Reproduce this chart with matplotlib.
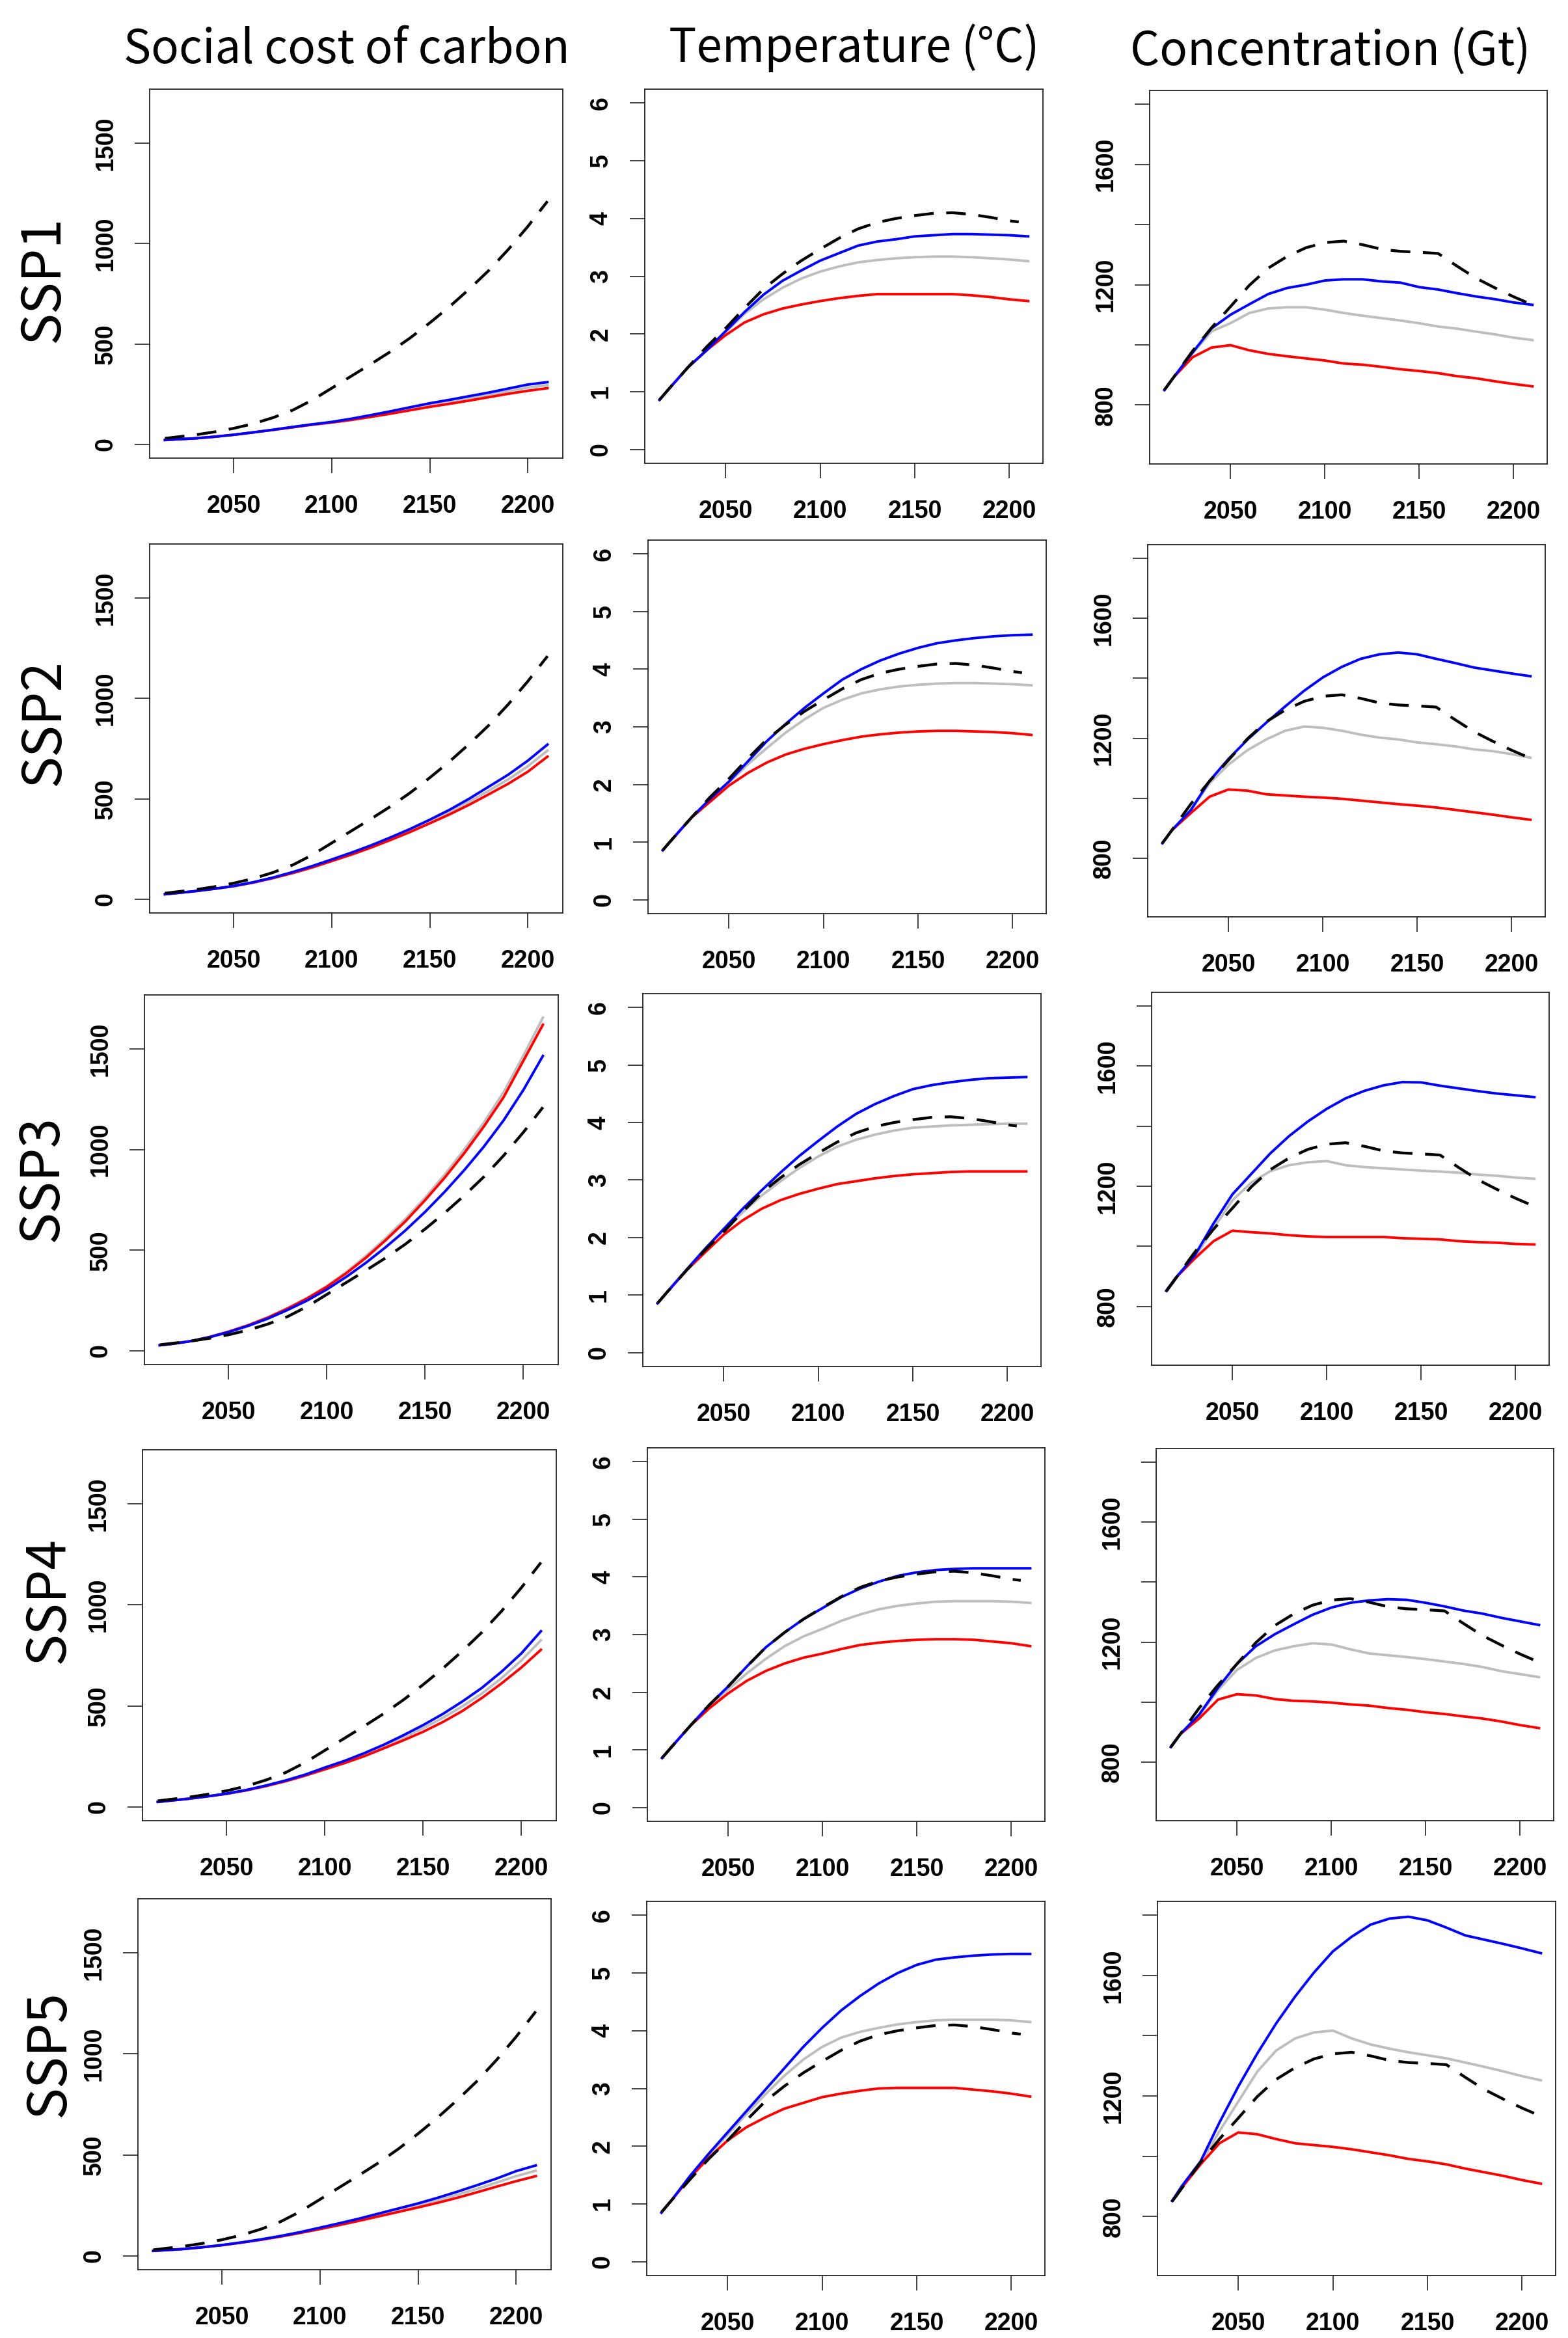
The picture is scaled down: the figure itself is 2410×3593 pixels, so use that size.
import matplotlib
matplotlib.use('Agg')
import matplotlib.pyplot as plt

# ---- data (one value per year below) ----
years = [2015, 2020, 2030, 2040, 2050, 2060, 2070, 2080, 2090, 2100, 2110,
         2120, 2130, 2140, 2150, 2160, 2170, 2180, 2190, 2200, 2210]
years_ref_temp = years[:-1] + [2205]

ssp_labels = ['SSP1', 'SSP2', 'SSP3', 'SSP4', 'SSP5']
col_titles = ['Social cost of carbon', 'Temperature (°C)', 'Concentration (Gt)']

# dashed black reference run, identical in every row
scc_ref = [30, 36, 47, 62, 80, 103, 133, 170, 220, 280, 340, 400, 462, 530, 605, 685, 772, 865, 970, 1085, 1210]
temp_ref = [0.86, 1.05, 1.42, 1.78, 2.1, 2.45, 2.78, 3.04, 3.27, 3.47, 3.66, 3.82, 3.93, 4.0, 4.05, 4.09, 4.1, 4.07, 4.02, 3.96, 3.94]
conc_ref = [850, 893, 980, 1057, 1127, 1198, 1255, 1294, 1323, 1340, 1345, 1333, 1318, 1311, 1308, 1304, 1262, 1222, 1190, 1160, 1133]

# social cost of carbon
ssp1_scc_blue = [22, 25, 30, 38, 48, 60, 73, 87, 100, 112, 128, 146, 165, 185, 205, 222, 240, 258, 278, 298, 310]
ssp1_scc_gray = [22, 25, 30, 38, 48, 60, 72, 86, 99, 110, 125, 141, 159, 177, 196, 212, 229, 246, 265, 283, 295]
ssp1_scc_red = [22, 25, 30, 38, 48, 60, 72, 85, 98, 109, 122, 137, 153, 170, 187, 202, 218, 235, 252, 267, 280]
ssp2_scc_blue = [25, 30, 40, 52, 66, 85, 108, 135, 165, 198, 232, 268, 308, 350, 396, 445, 500, 560, 620, 690, 770]
ssp2_scc_gray = [25, 30, 40, 52, 65, 84, 106, 132, 162, 194, 227, 262, 301, 342, 387, 433, 485, 540, 597, 662, 740]
ssp2_scc_red = [25, 30, 40, 52, 65, 83, 105, 130, 158, 190, 222, 257, 295, 335, 378, 422, 470, 522, 575, 635, 710]
ssp3_scc_blue = [28, 33, 47, 67, 93, 124, 160, 203, 250, 305, 368, 438, 515, 598, 690, 790, 898, 1015, 1145, 1295, 1465]
ssp3_scc_gray = [28, 33, 47, 68, 96, 128, 167, 212, 263, 322, 392, 472, 560, 655, 760, 875, 1000, 1135, 1285, 1465, 1655]
ssp3_scc_red = [28, 33, 47, 68, 95, 127, 165, 210, 260, 318, 386, 463, 550, 643, 748, 860, 982, 1115, 1260, 1440, 1620]
ssp4_scc_blue = [25, 30, 40, 52, 66, 84, 106, 131, 160, 195, 228, 266, 308, 355, 405, 460, 522, 590, 670, 760, 870]
ssp4_scc_gray = [25, 30, 40, 52, 65, 83, 104, 129, 157, 190, 222, 258, 298, 342, 390, 441, 498, 562, 638, 725, 825]
ssp4_scc_red = [25, 30, 40, 52, 65, 82, 103, 127, 155, 186, 217, 251, 290, 330, 372, 420, 475, 540, 612, 690, 778]
ssp5_scc_blue = [25, 28, 34, 43, 54, 67, 82, 99, 118, 140, 162, 185, 210, 235, 260, 288, 318, 350, 383, 420, 448]
ssp5_scc_gray = [25, 28, 34, 43, 53, 66, 81, 97, 116, 136, 157, 179, 203, 226, 250, 275, 303, 332, 363, 395, 422]
ssp5_scc_red = [25, 28, 34, 43, 53, 66, 80, 96, 114, 133, 153, 174, 196, 218, 240, 263, 288, 315, 343, 370, 395]

# temperature
ssp1_temp_blue = [0.86, 1.05, 1.42, 1.72, 2.05, 2.38, 2.68, 2.92, 3.1, 3.27, 3.4, 3.53, 3.6, 3.64, 3.69, 3.71, 3.73, 3.73, 3.72, 3.71, 3.69]
ssp1_temp_gray = [0.86, 1.05, 1.42, 1.72, 2.03, 2.35, 2.6, 2.8, 2.96, 3.08, 3.17, 3.24, 3.28, 3.31, 3.33, 3.34, 3.34, 3.33, 3.31, 3.29, 3.26]
ssp1_temp_red = [0.86, 1.05, 1.42, 1.72, 1.98, 2.2, 2.34, 2.44, 2.51, 2.57, 2.62, 2.66, 2.69, 2.69, 2.69, 2.69, 2.69, 2.67, 2.64, 2.6, 2.57]
ssp2_temp_blue = [0.86, 1.05, 1.42, 1.75, 2.05, 2.4, 2.75, 3.05, 3.33, 3.58, 3.82, 4.0, 4.15, 4.27, 4.37, 4.45, 4.5, 4.54, 4.57, 4.59, 4.6]
ssp2_temp_gray = [0.86, 1.05, 1.42, 1.74, 2.03, 2.35, 2.63, 2.9, 3.13, 3.33, 3.47, 3.58, 3.65, 3.7, 3.73, 3.75, 3.76, 3.76, 3.75, 3.74, 3.72]
ssp2_temp_red = [0.86, 1.05, 1.42, 1.7, 1.98, 2.2, 2.38, 2.52, 2.62, 2.7, 2.77, 2.83, 2.87, 2.9, 2.92, 2.93, 2.93, 2.92, 2.91, 2.89, 2.86]
ssp3_temp_blue = [0.86, 1.05, 1.43, 1.8, 2.15, 2.5, 2.82, 3.13, 3.42, 3.68, 3.93, 4.15, 4.32, 4.46, 4.58, 4.65, 4.7, 4.74, 4.77, 4.78, 4.79]
ssp3_temp_gray = [0.86, 1.05, 1.43, 1.8, 2.12, 2.44, 2.73, 2.98, 3.21, 3.41, 3.58, 3.7, 3.79, 3.86, 3.91, 3.93, 3.95, 3.96, 3.97, 3.98, 3.98]
ssp3_temp_red = [0.86, 1.05, 1.42, 1.74, 2.05, 2.3, 2.5, 2.65, 2.76, 2.85, 2.93, 2.98, 3.03, 3.07, 3.1, 3.12, 3.14, 3.15, 3.15, 3.15, 3.15]
ssp4_temp_blue = [0.86, 1.05, 1.42, 1.78, 2.1, 2.45, 2.78, 3.04, 3.27, 3.46, 3.65, 3.8, 3.92, 4.02, 4.08, 4.12, 4.14, 4.15, 4.15, 4.15, 4.15]
ssp4_temp_gray = [0.86, 1.05, 1.42, 1.75, 2.05, 2.33, 2.58, 2.8, 2.97, 3.1, 3.24, 3.35, 3.44, 3.5, 3.54, 3.57, 3.58, 3.58, 3.58, 3.57, 3.55]
ssp4_temp_red = [0.86, 1.05, 1.42, 1.72, 1.98, 2.2, 2.37, 2.5, 2.6, 2.67, 2.75, 2.82, 2.86, 2.89, 2.91, 2.92, 2.92, 2.91, 2.88, 2.85, 2.8]
ssp5_temp_blue = [0.85, 1.05, 1.48, 1.87, 2.24, 2.61, 2.98, 3.35, 3.72, 4.05, 4.35, 4.6, 4.82, 5.0, 5.14, 5.23, 5.27, 5.3, 5.32, 5.33, 5.33]
ssp5_temp_gray = [0.85, 1.05, 1.47, 1.85, 2.2, 2.56, 2.9, 3.22, 3.5, 3.72, 3.88, 3.98, 4.05, 4.11, 4.15, 4.18, 4.19, 4.19, 4.19, 4.18, 4.15]
ssp5_temp_red = [0.85, 1.05, 1.45, 1.8, 2.1, 2.33, 2.5, 2.65, 2.75, 2.85, 2.91, 2.96, 3.0, 3.01, 3.01, 3.01, 3.01, 2.98, 2.95, 2.91, 2.86]

# concentration
ssp1_conc_blue = [850, 893, 975, 1055, 1100, 1135, 1169, 1189, 1200, 1214, 1218, 1218, 1211, 1207, 1192, 1184, 1172, 1161, 1152, 1141, 1133]
ssp1_conc_gray = [850, 893, 972, 1045, 1072, 1106, 1121, 1125, 1125, 1117, 1106, 1097, 1089, 1081, 1072, 1061, 1054, 1044, 1035, 1024, 1016]
ssp1_conc_red = [850, 893, 959, 991, 999, 982, 970, 962, 955, 948, 938, 934, 927, 919, 913, 906, 896, 889, 879, 870, 862]
ssp2_conc_blue = [850, 893, 960, 1058, 1131, 1195, 1252, 1306, 1358, 1403, 1438, 1465, 1480, 1486, 1480, 1465, 1451, 1436, 1426, 1416, 1407]
ssp2_conc_gray = [850, 893, 958, 1050, 1112, 1160, 1196, 1225, 1239, 1235, 1225, 1212, 1202, 1196, 1186, 1180, 1173, 1163, 1157, 1147, 1135]
ssp2_conc_red = [850, 893, 950, 1005, 1029, 1025, 1013, 1009, 1005, 1002, 998, 992, 986, 980, 975, 969, 961, 953, 945, 936, 928]
ssp3_conc_blue = [852, 895, 969, 1076, 1173, 1241, 1309, 1367, 1416, 1458, 1493, 1518, 1536, 1547, 1546, 1535, 1526, 1517, 1509, 1503, 1497]
ssp3_conc_gray = [852, 895, 962, 1060, 1153, 1212, 1250, 1270, 1280, 1284, 1270, 1264, 1260, 1256, 1252, 1249, 1245, 1239, 1235, 1229, 1225]
ssp3_conc_red = [852, 895, 959, 1017, 1052, 1047, 1043, 1037, 1033, 1031, 1031, 1031, 1031, 1027, 1025, 1023, 1017, 1014, 1012, 1008, 1006]
ssp4_conc_blue = [850, 893, 958, 1048, 1127, 1186, 1226, 1259, 1291, 1315, 1331, 1339, 1343, 1341, 1331, 1319, 1305, 1295, 1281, 1269, 1257]
ssp4_conc_gray = [850, 893, 955, 1040, 1107, 1147, 1172, 1186, 1196, 1192, 1176, 1162, 1156, 1150, 1143, 1135, 1127, 1117, 1103, 1093, 1083]
ssp4_conc_red = [850, 893, 945, 1008, 1026, 1022, 1010, 1004, 1002, 998, 992, 988, 980, 974, 966, 960, 952, 945, 935, 923, 913]
ssp5_conc_blue = [852, 900, 983, 1112, 1232, 1341, 1441, 1530, 1610, 1680, 1729, 1769, 1789, 1795, 1783, 1759, 1733, 1719, 1705, 1690, 1674]
ssp5_conc_gray = [852, 898, 975, 1083, 1182, 1281, 1351, 1391, 1411, 1417, 1391, 1371, 1357, 1345, 1335, 1325, 1311, 1297, 1282, 1266, 1252]
ssp5_conc_red = [852, 895, 973, 1043, 1079, 1073, 1057, 1043, 1037, 1031, 1023, 1013, 1003, 991, 983, 973, 959, 947, 935, 921, 909]

scc_runs = [(ssp1_scc_gray, ssp1_scc_red, ssp1_scc_blue),
            (ssp2_scc_gray, ssp2_scc_red, ssp2_scc_blue),
            (ssp3_scc_gray, ssp3_scc_red, ssp3_scc_blue),
            (ssp4_scc_gray, ssp4_scc_red, ssp4_scc_blue),
            (ssp5_scc_gray, ssp5_scc_red, ssp5_scc_blue)]
temp_runs = [(ssp1_temp_gray, ssp1_temp_red, ssp1_temp_blue),
             (ssp2_temp_gray, ssp2_temp_red, ssp2_temp_blue),
             (ssp3_temp_gray, ssp3_temp_red, ssp3_temp_blue),
             (ssp4_temp_gray, ssp4_temp_red, ssp4_temp_blue),
             (ssp5_temp_gray, ssp5_temp_red, ssp5_temp_blue)]
conc_runs = [(ssp1_conc_gray, ssp1_conc_red, ssp1_conc_blue),
             (ssp2_conc_gray, ssp2_conc_red, ssp2_conc_blue),
             (ssp3_conc_gray, ssp3_conc_red, ssp3_conc_blue),
             (ssp4_conc_gray, ssp4_conc_red, ssp4_conc_blue),
             (ssp5_conc_gray, ssp5_conc_red, ssp5_conc_blue)]

# ---- layout: panel boxes in pixels (left, right, top, bottom) ----
W, H = 2410, 3593
boxes = [
    [(230, 865, 137, 704), (991, 1603, 137, 712), (1767, 2378, 139, 713)],
    [(230, 865, 836, 1403), (996, 1608, 830, 1404), (1764, 2375, 837, 1409)],
    [(222, 858, 1529, 2097), (988, 1600, 1527, 2100), (1770, 2381, 1525, 2098)],
    [(219, 855, 2228, 2798), (995, 1606, 2225, 2799), (1777, 2388, 2226, 2798)],
    [(212, 847, 2918, 3488), (994, 1606, 2922, 3497), (1779, 2391, 2922, 3497)],
]
row_label_pos = [(67, 429), (68, 1111), (65, 1811), (75, 2460), (76, 3156)]
title_pos = [(533, 97), (1313, 95), (2045, 100)]

# R-style limits: data range padded by 4 % on each side
def rlim(lo, hi):
    d = (hi - lo) * 0.04
    return lo - d, hi + d

xlim = rlim(2015, 2210)
ylims = [rlim(0, 1700), rlim(0, 6), rlim(650, 1800)]
yticks = [[0, 500, 1000, 1500], [0, 1, 2, 3, 4, 5, 6], [800, 1000, 1200, 1400, 1600, 1800]]
yticklabels = [['0', '500', '1000', '1500'], ['0', '1', '2', '3', '4', '5', '6'],
               ['800', '', '1200', '', '1600', '']]

LW = 2.8
tick_font = dict(family='Liberation Sans', weight='bold', size=27)
big_font = ['Noto Sans CJK JP', 'DejaVu Sans']

fig = plt.figure(figsize=(W / 100, H / 100), dpi=100)

for r in range(5):
    runs = [scc_runs[r], temp_runs[r], conc_runs[r]]
    refs = [(years, scc_ref), (years_ref_temp, temp_ref), (years, conc_ref)]
    for c in range(3):
        x0, x1, t, b = boxes[r][c]
        ax = fig.add_axes([x0 / W, 1 - b / H, (x1 - x0) / W, (b - t) / H])
        gray, red, blue = runs[c]
        ax.plot(years, gray, color='#BEBEBE', lw=LW)
        ax.plot(years, red, color='#FF0000', lw=LW)
        ax.plot(years, blue, color='#0000FF', lw=LW)
        ax.plot(refs[c][0], refs[c][1], color='black', lw=LW + 0.3, ls=(0, (7, 4.5)))

        ax.set_xlim(xlim)
        ax.set_ylim(ylims[c])
        ax.set_xticks([2050, 2100, 2150, 2200])
        ax.set_xticklabels(['2050', '2100', '2150', '2200'], fontdict=tick_font)
        ax.set_yticks(yticks[c])
        ax.set_yticklabels(yticklabels[c], fontdict=tick_font, rotation=90, va='center')
        ax.tick_params(axis='both', direction='out', length=16.5, width=1.3, color='#333333')
        ax.tick_params(axis='x', pad=24)
        ax.tick_params(axis='y', pad=19)
        for s in ax.spines.values():
            s.set_linewidth(1.3)
            s.set_color('#222222')

for c, (tx, ty) in enumerate(title_pos):
    fig.text(tx / W, 1 - ty / H, col_titles[c], ha='center', va='baseline',
             fontsize=51, family=big_font)

for r, (lx, ly) in enumerate(row_label_pos):
    fig.text(lx / W, 1 - ly / H, ssp_labels[r], ha='center', va='center',
             rotation=90, fontsize=59, family=big_font)

fig.savefig('out.png', dpi=100)
